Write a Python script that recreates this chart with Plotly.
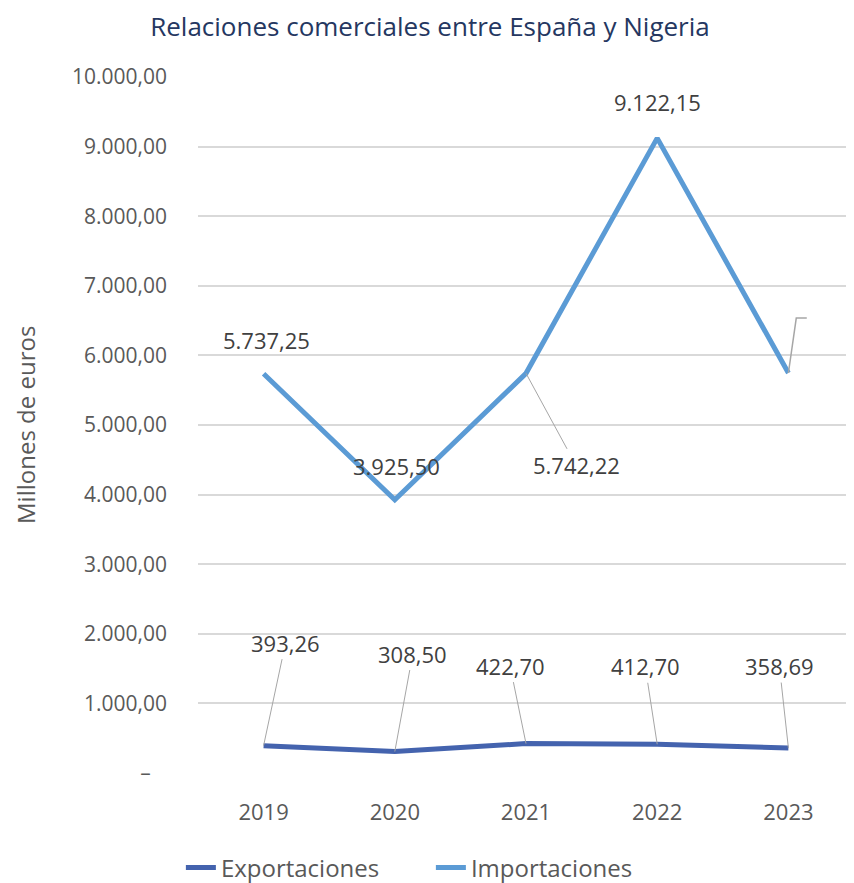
import plotly.graph_objects as go

# Relaciones comerciales entre España y Nigeria (millones de euros)
years = ["2019", "2020", "2021", "2022", "2023"]
exportaciones = [393.26, 308.50, 422.70, 412.70, 358.69]
importaciones = [5737.25, 3925.50, 5742.22, 9122.15, 5747.00]
y_ticks = [0, 1000, 2000, 3000, 4000, 5000, 6000, 7000, 8000, 9000, 10000]

FONT = "Open Sans"
GREY = "#595959"
LABEL = "#404040"


def es_num(v):
    # 1,234.50 -> 1.234,50
    s = f"{v:,.2f}"
    return s.replace(",", "X").replace(".", ",").replace("X", ".")


y_ticktext = ["–\u00a0\u00a0\u00a0" if v == 0 else es_num(v) for v in y_ticks]

fig = go.Figure()
fig.add_trace(go.Scatter(x=years, y=exportaciones, mode="lines", name="Exportaciones",
                         line=dict(color="#4463ae", width=5)))
fig.add_trace(go.Scatter(x=years, y=importaciones, mode="lines", name="Importaciones",
                         line=dict(color="#5b9bd5", width=5)))

# data labels, (ax, ay) offsets in px; leader = draw the grey leader line
exp_offsets = [(22, -103), (18, -98), (-16, -78), (-12, -78), (-9, -82)]
imp_offsets = [(3, -34, False), (2, -34, False), (50, 92, True), (0, -36, False)]

# category axis -> annotations placed by index
for i, (v, (ax, ay)) in enumerate(zip(exportaciones, exp_offsets)):
    fig.add_annotation(x=i, y=v, xref="x", yref="y", text=es_num(v), showarrow=True,
                       arrowhead=0, arrowwidth=1, arrowcolor="#a6a6a6", ax=ax, ay=ay,
                       font=dict(family=FONT, size=22, color=LABEL))

for i, (v, (ax, ay, leader)) in enumerate(zip(importaciones, imp_offsets)):
    fig.add_annotation(x=i, y=v, xref="x", yref="y", text=es_num(v), showarrow=True,
                       arrowhead=0, arrowwidth=1,
                       arrowcolor="#a6a6a6" if leader else "rgba(0,0,0,0)",
                       ax=ax, ay=ay, font=dict(family=FONT, size=22, color=LABEL))

# 2023 import label sits outside the chart; only its leader line shows
v23 = importaciones[-1]
fig.add_shape(type="path", xref="x", yref="y",
              path=f"M 4,{v23} L 4.06,{v23 + 790} L 4.14,{v23 + 790}",
              line=dict(color="#a6a6a6", width=1.5))

# y axis title as rotated text
fig.add_annotation(text="Millones de euros", xref="paper", yref="paper",
                   x=-0.2637, y=0.5, xanchor="center", yanchor="middle",
                   textangle=-90, showarrow=False,
                   font=dict(family=FONT, size=24, color=GREY))

# page body has an 8px margin, so the figure is 8px smaller than the window
fig.update_layout(
    width=846, height=875,
    margin=dict(l=190, r=0, t=69, b=110, autoexpand=False),
    paper_bgcolor="white", plot_bgcolor="white",
    font=dict(family=FONT, color=GREY),
    title=dict(text="Relaciones comerciales entre España y Nigeria",
               font=dict(family=FONT, size=26, color="#253761"),
               x=0.4988, xanchor="center", xref="container",
               y=0.9783, yanchor="middle", yref="container"),
    legend=dict(orientation="h", x=0.355, xanchor="center", y=-0.1365, yanchor="middle",
                font=dict(family=FONT, size=24, color=GREY), entrywidth=205),
    showlegend=True,
)
fig.update_xaxes(type="category", showgrid=False, showline=False, ticks="",
                 automargin=False,
                 tickfont=dict(family=FONT, size=22, color=GREY),
                 ticklabelstandoff=24, range=[-0.5, 4.5])
fig.update_yaxes(range=[0, 10000], tickvals=y_ticks, ticktext=y_ticktext,
                 automargin=False,
                 showgrid=True, gridcolor="#d9d9d9", gridwidth=1.5, zeroline=False,
                 showline=False, ticks="", ticklabelstandoff=30,
                 tickfont=dict(family=FONT, size=21, color=GREY))

fig.write_html("out.html")
